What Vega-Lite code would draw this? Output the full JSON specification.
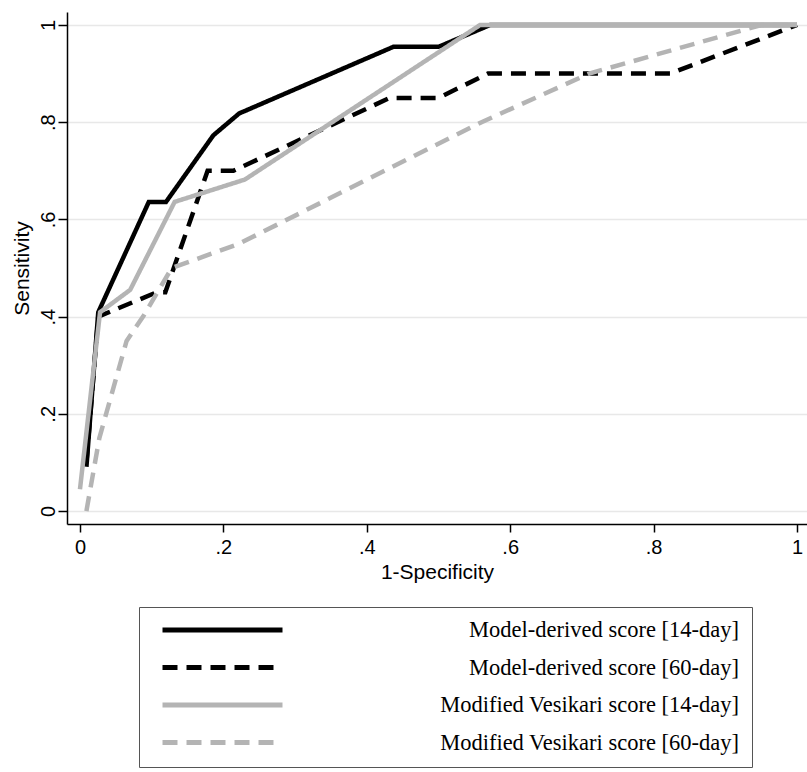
{
  "$schema": "https://vega.github.io/schema/vega-lite/v6.json",
  "width": 740,
  "height": 512,
  "autosize": {"type": "none"},
  "padding": {"left": 67, "top": 12, "right": 0, "bottom": 248},
  "background": "white",
  "config": {
    "view": {"stroke": null},
    "axis": {
      "labelFont": "Liberation Sans",
      "titleFont": "Liberation Sans",
      "labelColor": "black",
      "titleColor": "black",
      "labelFontSize": 20,
      "titleFontSize": 21,
      "titleFontWeight": "normal",
      "domainColor": "black",
      "domainWidth": 1.5,
      "tickColor": "black",
      "tickWidth": 1.5
    }
  },
  "data": {
    "values": [
      {"series": "Model-derived score [14-day]", "fpr": 0.009, "tpr": 0.091},
      {"series": "Model-derived score [14-day]", "fpr": 0.0255, "tpr": 0.409},
      {"series": "Model-derived score [14-day]", "fpr": 0.096, "tpr": 0.636},
      {"series": "Model-derived score [14-day]", "fpr": 0.12, "tpr": 0.636},
      {"series": "Model-derived score [14-day]", "fpr": 0.186, "tpr": 0.773},
      {"series": "Model-derived score [14-day]", "fpr": 0.222, "tpr": 0.818},
      {"series": "Model-derived score [14-day]", "fpr": 0.437, "tpr": 0.955},
      {"series": "Model-derived score [14-day]", "fpr": 0.5, "tpr": 0.955},
      {"series": "Model-derived score [14-day]", "fpr": 0.572, "tpr": 1.0},
      {"series": "Model-derived score [14-day]", "fpr": 1.0, "tpr": 1.0},
      {"series": "Model-derived score [60-day]", "fpr": 0.009, "tpr": 0.1},
      {"series": "Model-derived score [60-day]", "fpr": 0.0255, "tpr": 0.4},
      {"series": "Model-derived score [60-day]", "fpr": 0.107, "tpr": 0.45},
      {"series": "Model-derived score [60-day]", "fpr": 0.119, "tpr": 0.45},
      {"series": "Model-derived score [60-day]", "fpr": 0.178, "tpr": 0.7},
      {"series": "Model-derived score [60-day]", "fpr": 0.214, "tpr": 0.7},
      {"series": "Model-derived score [60-day]", "fpr": 0.432, "tpr": 0.85},
      {"series": "Model-derived score [60-day]", "fpr": 0.5, "tpr": 0.85},
      {"series": "Model-derived score [60-day]", "fpr": 0.569, "tpr": 0.9},
      {"series": "Model-derived score [60-day]", "fpr": 0.823, "tpr": 0.9},
      {"series": "Model-derived score [60-day]", "fpr": 1.0, "tpr": 1.0},
      {"series": "Modified Vesikari score [14-day]", "fpr": 0.0, "tpr": 0.045},
      {"series": "Modified Vesikari score [14-day]", "fpr": 0.028, "tpr": 0.409},
      {"series": "Modified Vesikari score [14-day]", "fpr": 0.07, "tpr": 0.455},
      {"series": "Modified Vesikari score [14-day]", "fpr": 0.132, "tpr": 0.636},
      {"series": "Modified Vesikari score [14-day]", "fpr": 0.23, "tpr": 0.682},
      {"series": "Modified Vesikari score [14-day]", "fpr": 0.558, "tpr": 1.0},
      {"series": "Modified Vesikari score [14-day]", "fpr": 1.0, "tpr": 1.0},
      {"series": "Modified Vesikari score [60-day]", "fpr": 0.009, "tpr": 0.0},
      {"series": "Modified Vesikari score [60-day]", "fpr": 0.027, "tpr": 0.15},
      {"series": "Modified Vesikari score [60-day]", "fpr": 0.065, "tpr": 0.35},
      {"series": "Modified Vesikari score [60-day]", "fpr": 0.088, "tpr": 0.4},
      {"series": "Modified Vesikari score [60-day]", "fpr": 0.128, "tpr": 0.5},
      {"series": "Modified Vesikari score [60-day]", "fpr": 0.222, "tpr": 0.55},
      {"series": "Modified Vesikari score [60-day]", "fpr": 0.56, "tpr": 0.8},
      {"series": "Modified Vesikari score [60-day]", "fpr": 0.71, "tpr": 0.9},
      {"series": "Modified Vesikari score [60-day]", "fpr": 0.95, "tpr": 1.0},
      {"series": "Modified Vesikari score [60-day]", "fpr": 1.0, "tpr": 1.0}
    ]
  },
  "mark": {"type": "line", "strokeWidth": 4.5, "clip": true},
  "encoding": {
    "x": {
      "field": "fpr",
      "type": "quantitative",
      "scale": {"domain": [-0.0181, 1.0139], "nice": false, "zero": false},
      "axis": {
        "title": "1-Specificity",
        "values": [0, 0.2, 0.4, 0.6, 0.8, 1],
        "labelExpr": "datum.value == 0 ? '0' : datum.value == 1 ? '1' : replace(format(datum.value, '.1f'), '0.', '.')",
        "grid": false,
        "tickSize": 8,
        "labelPadding": 5,
        "titlePadding": 4
      }
    },
    "y": {
      "field": "tpr",
      "type": "quantitative",
      "scale": {"domain": [-0.0267, 1.0267], "nice": false, "zero": false},
      "axis": {
        "title": "Sensitivity",
        "values": [0, 0.2, 0.4, 0.6, 0.8, 1],
        "labelExpr": "datum.value == 0 ? '0' : datum.value == 1 ? '1' : replace(format(datum.value, '.1f'), '0.', '.')",
        "grid": true,
        "gridColor": "#e8e8e8",
        "gridWidth": 1.5,
        "tickSize": 9,
        "labelAngle": -90,
        "labelAlign": "center",
        "labelBaseline": "alphabetic",
        "labelPadding": 4,
        "titlePadding": 6
      }
    },
    "color": {
      "field": "series",
      "type": "nominal",
      "scale": {
        "domain": ["Model-derived score [14-day]", "Model-derived score [60-day]", "Modified Vesikari score [14-day]", "Modified Vesikari score [60-day]"],
        "range": ["#000000", "#000000", "#b4b4b4", "#b4b4b4"]
      },
      "legend": {
        "title": null,
        "orient": "none",
        "legendX": 72,
        "legendY": 595,
        "direction": "vertical",
        "strokeColor": "#555555",
        "fillColor": "white",
        "padding": 13,
        "symbolOffset": 8,
        "symbolType": "stroke",
        "symbolSize": 14400,
        "symbolStrokeWidth": 5,
        "clipHeight": 20,
        "rowPadding": 14.5,
        "labelOffset": 454,
        "labelAlign": "right",
        "labelLimit": 500,
        "labelFont": "Liberation Serif",
        "labelFontSize": 22.5,
        "labelColor": "black"
      }
    },
    "strokeDash": {
      "field": "series",
      "type": "nominal",
      "scale": {
        "domain": ["Model-derived score [14-day]", "Model-derived score [60-day]", "Modified Vesikari score [14-day]", "Modified Vesikari score [60-day]"],
        "range": [[1, 0], [15, 9], [1, 0], [15, 9]]
      },
      "legend": {
        "title": null,
        "orient": "none",
        "legendX": 72,
        "legendY": 595,
        "direction": "vertical",
        "strokeColor": "#555555",
        "fillColor": "white",
        "padding": 13,
        "symbolOffset": 8,
        "symbolType": "stroke",
        "symbolSize": 14400,
        "symbolStrokeWidth": 5,
        "clipHeight": 20,
        "rowPadding": 14.5,
        "labelOffset": 454,
        "labelAlign": "right",
        "labelLimit": 500,
        "labelFont": "Liberation Serif",
        "labelFontSize": 22.5,
        "labelColor": "black"
      }
    }
  }
}
